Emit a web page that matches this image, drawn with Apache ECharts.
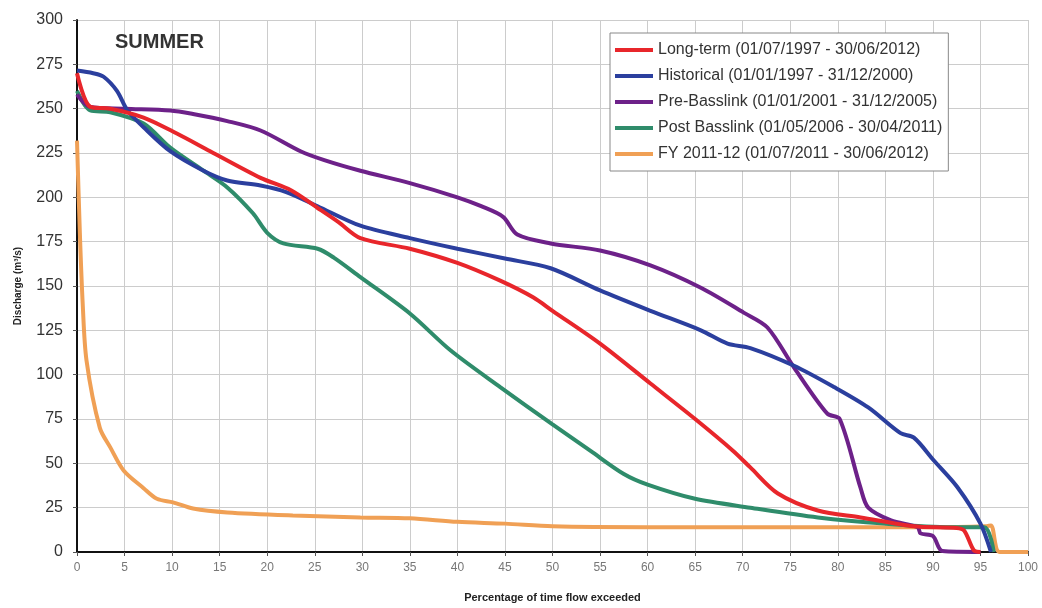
<!DOCTYPE html>
<html>
<head>
<meta charset="utf-8">
<script src="https://cdn.jsdelivr.net/npm/echarts@6/dist/echarts.min.js"></script>
<style>html,body{margin:0;padding:0;background:#fff}#c{width:1042px;height:608px}</style>
</head>
<body>
<div id="c"></div>
<script>
const seriesNames = [
  'Long-term (01/07/1997 - 30/06/2012)',
  'Historical (01/01/1997 - 31/12/2000)',
  'Pre-Basslink (01/01/2001 - 31/12/2005)',
  'Post Basslink (01/05/2006 - 30/04/2011)',
  'FY 2011-12 (01/07/2011 - 30/06/2012)'
];
const longTerm = [[0,270],[1.4,251],[3.5,250],[7,245],[10.5,236],[14,226],[19.3,211],[22.5,204],[25.3,194],[27.5,186],[29.8,177],[35,171],[40,163],[44.5,153],[48,143.5],[50,136],[55,117.5],[60.3,95],[65,75],[69,57],[70.8,47.7],[73.7,33],[77.9,23.4],[82.4,19.5],[88,14.5],[92.5,13.5],[93.3,12],[94.3,1],[95,0]];
const historical = [[0,271.5],[1.7,270],[2.8,268],[4.2,260],[5.3,249],[7,239.5],[9.8,226],[13.3,215],[15.8,209.5],[19.3,206.7],[22,203],[25.3,195],[29.8,184],[35,177],[40,171],[45,165.5],[49.8,160],[55,147.5],[60.3,136],[65.6,125],[68.4,117.5],[70.8,115],[75.4,105],[79.6,93],[83.2,81.5],[86.6,67],[88,64.5],[90.1,51.6],[92.6,36.4],[95,16],[96.1,0]];
const preBasslink = [[0,258],[1.4,251],[5,250],[9.8,249],[12.2,247],[15.8,243],[19.3,237.7],[23.5,226],[26,221],[29.8,215],[35,208],[40,200],[42.5,195],[44.8,189],[46.3,179],[49.8,174],[55,170],[60.3,161.6],[65.6,149],[70.1,135],[72.6,126.6],[75.4,104],[78.9,78],[80.2,75],[82.4,36],[83.2,25],[85.6,17.8],[88.4,14],[88.7,10.5],[90,9],[91,0.5],[95,0]];
const postBasslink = [[0,260],[1.4,249],[3.5,248],[7,241.6],[9.8,228],[13.3,215],[15.8,205.6],[18.5,191],[20,180],[21.7,174],[25.3,171],[27,166],[29.8,155],[35,134.5],[39.3,113.6],[44.5,93],[50,72],[54,57],[57.5,44],[60,38],[65,30],[70.8,25],[77.9,19.5],[84.9,16],[91.9,14],[95.4,14],[96.4,0]];
const fy2011 = [[0,232],[0.3,180],[0.6,140],[1,108],[2.4,70],[3.5,59],[4.9,46],[7,36],[8.4,30],[10.1,28],[12.2,24.5],[15.8,22.3],[22.7,20.6],[29.8,19.5],[35,19],[40,17],[45,16],[50,14.5],[60,14],[70,14],[80,14],[90,14],[95.5,14.5],[96.1,15],[97,0],[100,0]];
const colors = ['#e8262b','#2b3f9e','#6d2189','#2f8c6b','#f0a055'];
const allData = [longTerm, historical, preBasslink, postBasslink, fy2011];

const chart = echarts.init(document.getElementById('c'), null, {renderer:'canvas'});
chart.setOption({
  animation:false,
  backgroundColor:'#fff',
  title:{text:'SUMMER',left:110,top:27,textStyle:{fontFamily:'Liberation Sans, Arial',fontSize:20,fontWeight:'bold',color:'#333'}},
  grid:{left:77,right:14,top:20,bottom:56},
  legend:{
    orient:'vertical',left:610,top:33,
    backgroundColor:'#fff',borderColor:'#888',borderWidth:1,
    padding:[9,6,9,5],itemGap:10,itemWidth:38,itemHeight:4,
    icon:'rect',
    textStyle:{fontFamily:'Liberation Sans, Arial',fontSize:16,color:'#333'},
    data:seriesNames
  },
  xAxis:{
    type:'value',min:0,max:100,interval:5,
    name:'Percentage of time flow exceeded',nameLocation:'middle',nameGap:40,
    nameTextStyle:{fontFamily:'Liberation Sans, Arial',fontSize:11,fontWeight:'bold',color:'#222'},
    axisLine:{lineStyle:{color:'#111',width:2}},
    axisTick:{show:true,length:4,lineStyle:{color:'#555'}},
    axisLabel:{fontFamily:'Liberation Sans, Arial',fontSize:12,color:'#777',margin:10},
    splitLine:{show:true,lineStyle:{color:'#ccc',width:1}}
  },
  yAxis:{
    type:'value',min:0,max:300,interval:25,
    name:'Discharge (m³/s)',nameLocation:'middle',nameGap:54,
    nameTextStyle:{fontFamily:'Liberation Sans, Arial',fontSize:10,fontWeight:'bold',color:'#222'},
    axisLine:{show:true,lineStyle:{color:'#111',width:2}},
    axisTick:{show:true,length:4,lineStyle:{color:'#555'}},
    axisLabel:{fontFamily:'Liberation Sans, Arial',fontSize:16,color:'#333',margin:14},
    splitLine:{show:true,lineStyle:{color:'#ccc',width:1}}
  },
  series: allData.map((d,i)=>({
    name:seriesNames[i],type:'line',data:d,showSymbol:false,symbol:'none',
    smooth:0.3,
    lineStyle:{color:colors[i],width:4},itemStyle:{color:colors[i]},
    z: i===4 ? 1 : 5-i
  }))
});
</script>
</body>
</html>
